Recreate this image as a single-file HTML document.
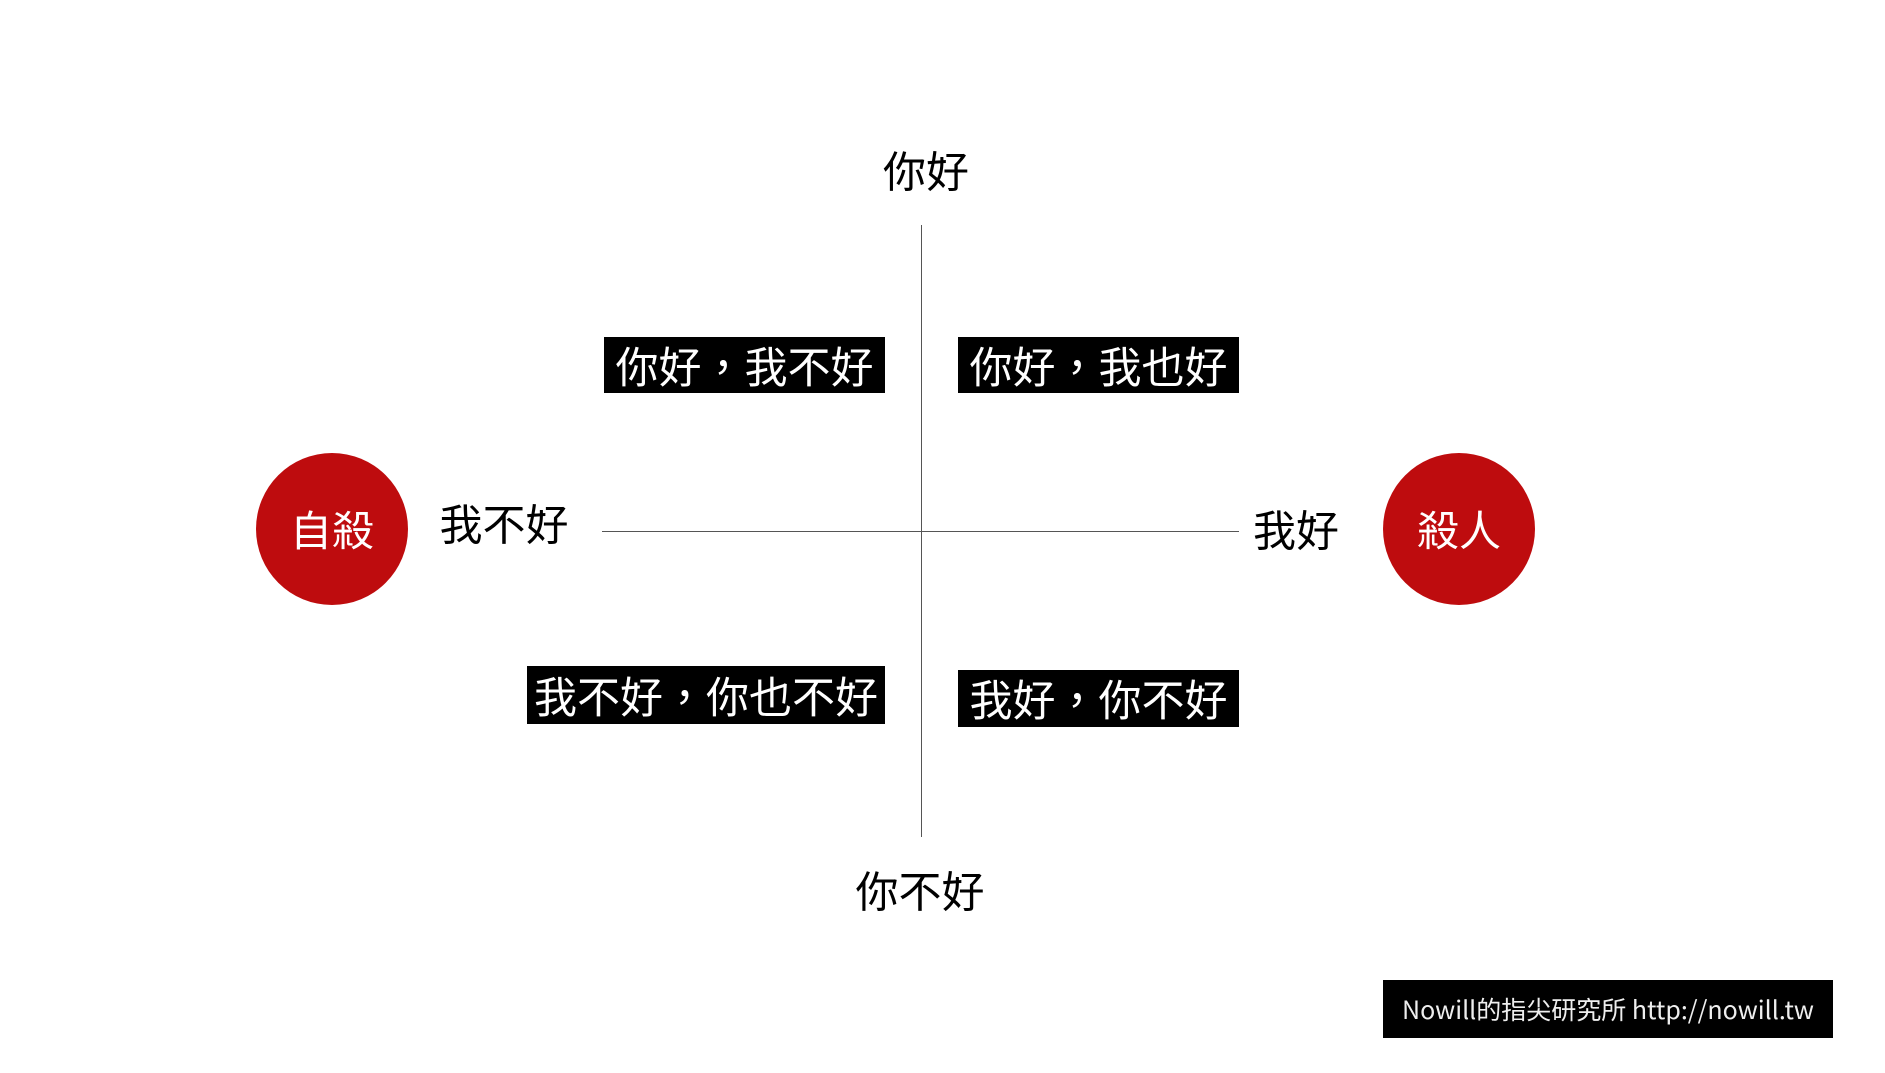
<!DOCTYPE html>
<html><head><meta charset="utf-8"><style>
body{margin:0;width:1885px;height:1073px;background:#fff;position:relative;overflow:hidden;font-family:"Noto Sans CJK TC",sans-serif;}
.a{position:absolute;white-space:nowrap;line-height:1;}
.c{transform:translate(-50%,-50%);}
.box{position:absolute;background:#000;color:#fff;font-size:43px;display:flex;align-items:center;justify-content:center;white-space:nowrap;line-height:1;}
.circ{position:absolute;width:152px;height:152px;border-radius:50%;background:#be0c0e;color:#fff;font-size:42px;display:flex;align-items:center;justify-content:center;line-height:1;}
</style></head><body>
<div style="position:absolute;left:921px;top:225px;width:1px;height:612px;background:#555"></div>
<div style="position:absolute;left:602px;top:531px;width:637px;height:1px;background:#555"></div>
<div class="a c" style="left:926px;top:170px;font-size:43px">你好</div>
<div class="a c" style="left:920px;top:890px;font-size:43px">你不好</div>
<div class="a c" style="left:504px;top:523px;font-size:43px">我不好</div>
<div class="a c" style="left:1296px;top:529px;font-size:43px">我好</div>
<div class="box" style="left:604px;top:337px;width:281px;height:56px">你好，我不好</div>
<div class="box" style="left:958px;top:337px;width:281px;height:56px">你好，我也好</div>
<div class="box" style="left:527px;top:666px;width:358px;height:58px">我不好，你也不好</div>
<div class="box" style="left:958px;top:670px;width:281px;height:57px">我好，你不好</div>
<div class="circ" style="left:256px;top:453px">自殺</div>
<div class="circ" style="left:1383px;top:453px">殺人</div>
<div style="position:absolute;left:1383px;top:980px;width:450px;height:58px;background:#000;color:#eee;font-size:25px;display:flex;align-items:center;justify-content:center;white-space:nowrap">Nowill的指尖研究所 http://nowill.tw</div>
</body></html>
